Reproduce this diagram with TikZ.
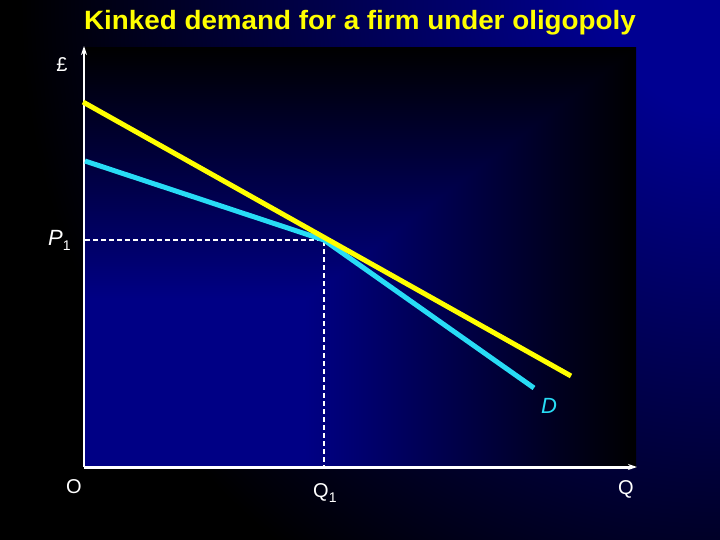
\documentclass[tikz,border=0pt]{standalone}
\usepackage{fontspec}
\setmainfont{Liberation Sans}
\usetikzlibrary{arrows.meta}
\definecolor{ttl}{RGB}{255,255,0}
\definecolor{dcyan}{RGB}{40,220,245}
\definecolor{bgblue}{RGB}{0,0,145}
\pgfdeclareradialshading{bgfade}{\pgfpointorigin}{color(0bp)=(bgblue); color(4bp)=(bgblue); color(25bp)=(black); color(50bp)=(black)}
\pgfdeclarefunctionalshading{plotfade}{\pgfpointorigin}{\pgfpoint{100bp}{100bp}}{}{%
  2 copy lt {exch} if pop
  25 sub 50 div
  dup 0 lt {pop 0} if
  dup 1 gt {pop 1} if
  1 exch sub 0.6 div
  dup 1 gt {pop 1} if
  0.52 mul
  0 0 3 -1 roll
}
\begin{document}
\begin{tikzpicture}[x=1pt,y=-1pt,
  lbl/.style={text=white,font=\fontsize{20}{24}\selectfont,inner sep=0pt},
  axisline/.style={white,-{Stealth[length=9pt,width=6pt]}},
  guide/.style={white,line width=2pt,dash pattern=on 5pt off 3pt},
  curve/.style={line width=5pt,line join=round}]
\useasboundingbox (0,0) rectangle (720,540);
\fill[black] (0,0) rectangle (720,540);
\begin{scope}
  \clip (0,0) rectangle (720,540);
  \shade[shading=bgfade] (720,0) circle (700pt);
\end{scope}
\shade[shading=plotfade] (85,48) rectangle (636,467);

\node[text=ttl,font=\bfseries\fontsize{26.5}{30}\selectfont,anchor=base,inner sep=0pt] (title) at (360,29.5) {\scalebox{1.05}[1]{Kinked demand for a firm under oligopoly}};

\coordinate (O) at (84,467);
\coordinate (ytop) at (84,46);
\coordinate (xend) at (637,467);
\coordinate (K) at (324,240);
\coordinate (pk) at (85,240);
\coordinate (qk) at (324,466);
\coordinate (Ya) at (83,102);
\coordinate (Yb) at (571,376);
\coordinate (Ca) at (85,161);
\coordinate (Cb) at (534,388);

\draw[axisline,line width=2.4pt] (O) -- (ytop);
\draw[axisline,line width=3pt] (O) -- (xend);
\draw[guide] (pk) -- (K) -- (qk);
\draw[curve,dcyan] (Ca) -- (K) -- (Cb);
\draw[curve,ttl] (Ya) -- (Yb);

\node[lbl,anchor=base] (pound) at (62,72) {£};
\node[lbl,anchor=base west,font=\itshape\fontsize{22}{26}\selectfont] (plab) at (48,245) {P\raisebox{-5pt}{\upshape\fontsize{14}{14}\selectfont 1}};
\node[lbl,anchor=base] (olab) at (74,493) {O};
\node[lbl,anchor=base west] (q1lab) at (313,497) {Q\raisebox{-5pt}{\fontsize{14}{14}\selectfont 1}};
\node[lbl,anchor=base] (qlab) at (626,494) {Q};
\node[lbl,anchor=base,text=dcyan,font=\itshape\fontsize{22}{26}\selectfont] (dlab) at (549,413) {D};
\end{tikzpicture}
\end{document}
